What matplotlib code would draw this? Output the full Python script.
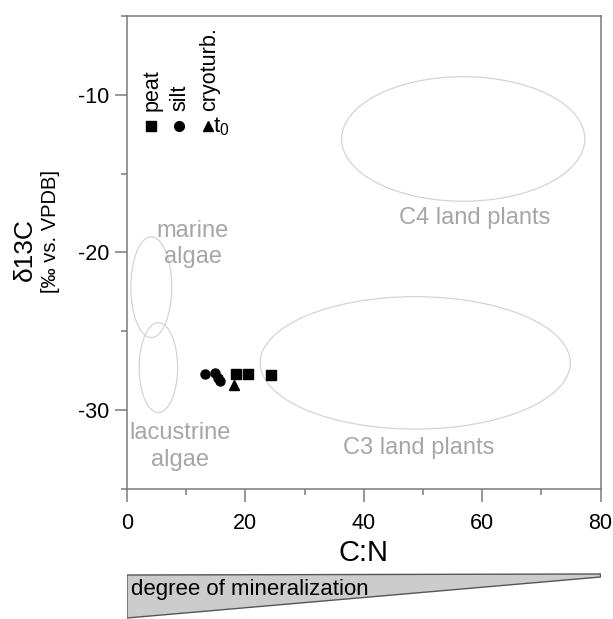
import matplotlib
matplotlib.use("Agg")
import matplotlib.pyplot as plt
from matplotlib.patches import Ellipse, Polygon

plt.rcParams['font.family'] = ['Liberation Sans', 'DejaVu Sans']
plt.rcParams['mathtext.fontset'] = 'custom'
plt.rcParams['mathtext.rm'] = 'Liberation Sans'
plt.rcParams['mathtext.it'] = 'Liberation Sans'
plt.rcParams['axes.unicode_minus'] = False

# Sample measurements (C:N ratio, d13C)
peat_cn = [18.5, 20.4, 24.3]
peat_d13c = [-27.7, -27.7, -27.8]
silt_cn = [13.2, 14.95, 15.3, 15.65]
silt_d13c = [-27.7, -27.65, -27.95, -28.15]
cryo_cn = [18.1]
cryo_d13c = [-28.4]

# Typical source fields: (label, centre C:N, centre d13C, width, height)
fields_name = ["C4 land plants", "C3 land plants", "marine algae", "lacustrine algae"]
fields_cx = [56.8, 48.7, 4.1, 5.3]
fields_cy = [-12.8, -27.0, -22.2, -27.3]
fields_w = [41.1, 52.4, 6.9, 6.5]
fields_h = [7.9, 8.4, 6.4, 5.7]

x_ticks = [0, 20, 40, 60, 80]
y_ticks = [-30, -20, -10]

W, H = 613, 619
fig = plt.figure(figsize=(W / 100, H / 100), dpi=100)
ax = fig.add_axes([127 / W, 1 - 489 / H, (600.5 - 127) / W, (489 - 16) / H])

axis_grey = "#7a7a7a"
for s in ax.spines.values():
    s.set_color(axis_grey)
    s.set_linewidth(1.1)

ax.set_xlim(0, 80)
ax.set_ylim(-35, -5)
ax.set_xticks(x_ticks)
ax.set_xticks(range(0, 81, 10), minor=True)
ax.set_yticks(y_ticks)
ax.set_yticks(range(-35, -4, 5), minor=True)
ax.tick_params(which='major', direction='out', length=9, width=1.1,
               color=axis_grey, labelsize=15.5)
ax.tick_params(axis='x', which='major', pad=8)
ax.tick_params(axis='y', which='major', pad=4)
ax.tick_params(which='minor', direction='out', length=4.5, width=1.1,
               color=axis_grey)

# Source fields
ell_col = "#d4d4d4"
for cx, cy, w, h in zip(fields_cx, fields_cy, fields_w, fields_h):
    ax.add_patch(Ellipse((cx, cy), w, h, fill=False, edgecolor=ell_col,
                         linewidth=0.9))

lab_col = "#a6a6a6"
ax.text(58.8, -17.8, "C4 land plants", color=lab_col, fontsize=17,
        ha='center', va='center')
ax.text(49.2, -32.4, "C3 land plants", color=lab_col, fontsize=17,
        ha='center', va='center')
ax.text(11.1, -19.45, "marine\nalgae", color=lab_col, fontsize=17,
        ha='center', va='center', linespacing=1.25)
ax.text(9.0, -32.3, "lacustrine\nalgae", color=lab_col, fontsize=17,
        ha='center', va='center', linespacing=1.25)

# Data points
ms = 6.5
ax.plot(peat_cn, peat_d13c, ls='none', marker='s', ms=ms, color='black')
ax.plot(silt_cn, silt_d13c, ls='none', marker='o', ms=ms, color='black')
ax.plot(cryo_cn, cryo_d13c, ls='none', marker='^', ms=ms, color='black')

# Key
key_y = -12.0
ax.plot([4.0], [key_y], ls='none', marker='s', ms=ms + 0.5, color='black')
ax.plot([8.8], [key_y], ls='none', marker='o', ms=ms + 0.5, color='black')
ax.plot([13.7], [key_y], ls='none', marker='^', ms=ms + 0.5, color='black')
ax.text(4.3, -11.0, "peat", rotation=90, fontsize=15.5, ha='center', va='bottom')
ax.text(9.0, -11.0, "silt", rotation=90, fontsize=15.5, ha='center', va='bottom')
ax.text(13.9, -11.0, "cryoturb.", rotation=90, fontsize=15.5, ha='center', va='bottom')
ax.text(14.6, key_y, "t$_0$", fontsize=16, ha='left', va='center')

ax.set_xlabel("C:N", fontsize=21, labelpad=4)
fig.text(25 / W, 1 - 250 / H, "δ13C", rotation=90, fontsize=19,
         ha='center', va='center')
fig.text(50 / W, 1 - 232 / H, "[‰ vs. VPDB]", rotation=90, fontsize=14.5,
         ha='center', va='center')

# Mineralization wedge below the axis
wax = fig.add_axes([127 / W, 0, (600.5 - 127) / W, 1 - 570 / H])
wax.set_xlim(0, 80)
wax.set_ylim(619, 570)
wax.axis('off')
wax.add_patch(Polygon([(0, 575), (80, 574), (80, 577), (0, 618)],
                      closed=True, facecolor="#cccccc", edgecolor="#555555",
                      linewidth=1.0))
wax.text(0.7, 590, "degree of mineralization", fontsize=16,
         ha='left', va='center')

fig.savefig("out.png", dpi=100)
